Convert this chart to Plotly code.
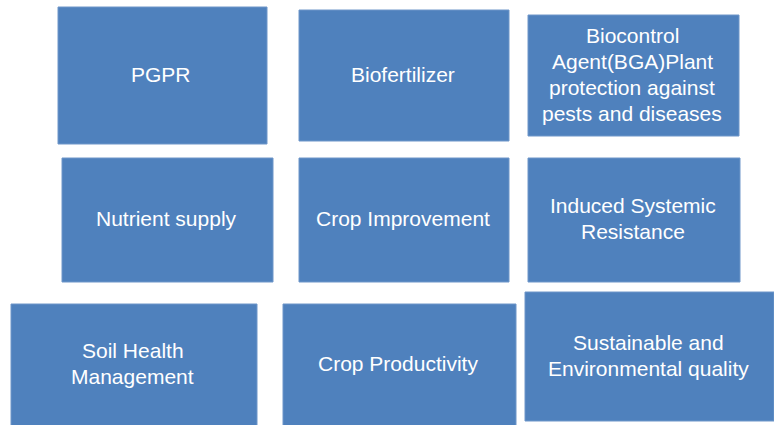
import plotly.graph_objects as go

labels = [["PGPR"], ["Biofertilizer"],
          ["Biocontrol", "Agent(BGA)Plant", "protection against", "pests and diseases"],
          ["Nutrient supply"], ["Crop Improvement"], ["Induced Systemic", "Resistance"],
          ["Soil Health", "Management"], ["Crop Productivity"],
          ["Sustainable and", "Environmental quality"]]
box_x0 = [58, 299, 528, 62, 299, 528, 11, 283, 525]
box_x1 = [267, 509, 739, 273, 509, 740, 257, 516, 774]
box_y0 = [7, 10, 15, 158, 158, 158, 304, 304, 292]
box_y1 = [144, 141, 136, 282, 282, 282, 426, 426, 421]

LINE = 26
fig = go.Figure()
shapes = []
annotations = []
for lines, a, b, c, d in zip(labels, box_x0, box_x1, box_y0, box_y1):
    shapes.append(dict(type="rect", xref="x", yref="y", x0=a, x1=b, y0=c, y1=d,
                       fillcolor="#4f81bd", line=dict(color="#6f96c9", width=1),
                       layer="below"))
    cx = (a + b) / 2 - 1.5
    cy = (c + d) / 2 - 1.5
    n = len(lines)
    for i, t in enumerate(lines):
        annotations.append(dict(x=cx, y=cy + (i - (n - 1) / 2) * LINE, xref="x", yref="y",
                                text=t, showarrow=False,
                                font=dict(family="Liberation Sans, Arial", size=21, color="white"),
                                align="center", xanchor="center", yanchor="middle"))

fig.add_trace(go.Scatter(x=[0, 774], y=[0, 425], mode="markers",
                         marker=dict(opacity=0), hoverinfo="skip", showlegend=False))
fig.update_layout(width=774, height=425, margin=dict(l=0, r=0, t=0, b=0),
                  paper_bgcolor="white", plot_bgcolor="white",
                  shapes=shapes, annotations=annotations, showlegend=False)
fig.update_xaxes(range=[0, 774], visible=False, fixedrange=True)
fig.update_yaxes(range=[425, 0], visible=False, fixedrange=True)
fig.write_html("out.html", config={"displayModeBar": False},
               post_script="document.body.style.margin='0';document.body.style.overflow='hidden';")
